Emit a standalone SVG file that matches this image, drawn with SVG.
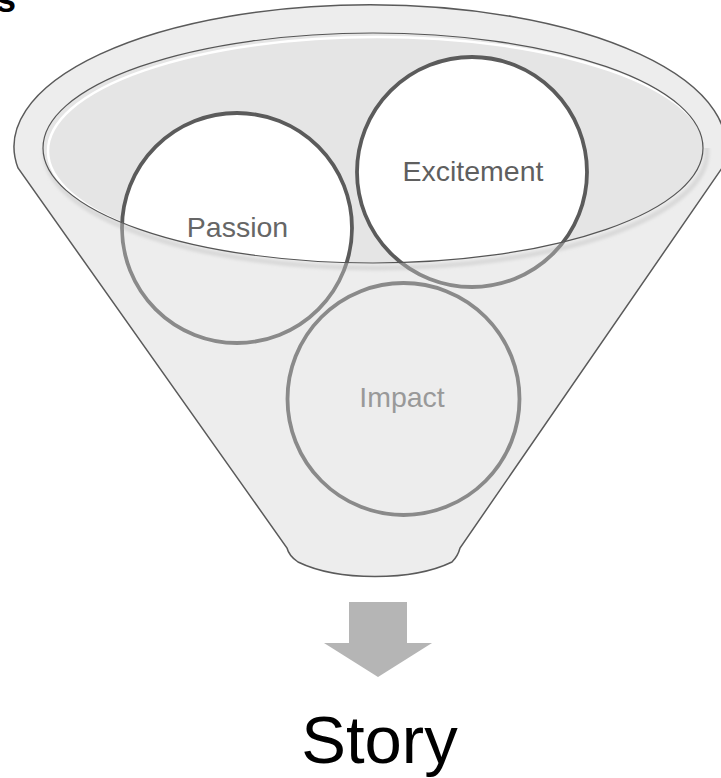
<svg xmlns="http://www.w3.org/2000/svg" width="721" height="778" viewBox="0 0 721 778">
  <style>
    .lbl { font-family: "Liberation Sans", Arial, sans-serif; font-size: 28.5px; text-anchor: middle; }
    .ring { fill: #ffffff; stroke: #5b5b5b; stroke-width: 3.8; }
    .ringFront { fill: none; stroke: #8a8a8a; stroke-width: 3.8; }
    .outline { fill: none; stroke: #5a5a5a; stroke-width: 1.5; }
  </style>
  <defs>
    <path id="frontShape" d="M 43,148 A 330 115 0 0 0 703,148 L 726,148 A 356 142 0 0 1 722,168 L 460,548 Q 458,556 452,562 A 100 40 0 0 1 298,562 Q 289,556 287,548 L 18,168 A 356 142 0 0 1 14,148 Z"/>
    <clipPath id="frontClip"><use href="#frontShape"/></clipPath>
    <clipPath id="innerClip"><ellipse cx="373" cy="148" rx="330" ry="115"/></clipPath>
    <filter id="soft" x="-5%" y="-5%" width="110%" height="110%"><feGaussianBlur stdDeviation="1.5"/></filter>
  </defs>

  <text x="-4" y="12" font-family="Liberation Sans, Arial, sans-serif" font-size="36" font-weight="bold" fill="#000">s</text>

  <g id="funnel-back">
    <path d="M 18,168 A 356 142 0 1 1 722,168 L 460,548 Q 458,556 452,562 A 100 40 0 0 1 298,562 Q 289,556 287,548 Z" fill="#ededed"/>
    <ellipse cx="373" cy="148" rx="330" ry="115" fill="#e5e5e5"/>
    <ellipse cx="377" cy="151" rx="329" ry="114" fill="none" stroke="#ffffff" stroke-width="2.5" clip-path="url(#innerClip)"/>
  </g>

  <g id="passion">
    <circle class="ring" cx="237" cy="228" r="115"/>
    <text class="lbl" x="237.5" y="237" fill="#666666">Passion</text>
  </g>

  <g id="excitement">
    <circle class="ring" cx="472" cy="172" r="115"/>
    <text class="lbl" x="473" y="181" fill="#5f5f5f">Excitement</text>
  </g>

  <g id="funnel-front">
    <use href="#frontShape" fill="#ededed"/>
    <ellipse cx="376" cy="152" rx="331" ry="116" fill="none" stroke="#d9d9d9" stroke-width="5" clip-path="url(#frontClip)" filter="url(#soft)"/>
    <g clip-path="url(#frontClip)">
      <circle class="ringFront" cx="237" cy="228" r="115"/>
      <circle class="ringFront" cx="472" cy="172" r="115"/>
    </g>
  </g>

  <g id="impact">
    <circle class="ringFront" cx="403.5" cy="399" r="116"/>
    <text class="lbl" x="402" y="407" fill="#999999">Impact</text>
  </g>

  <g id="funnel-outline">
    <ellipse cx="373" cy="148" rx="330" ry="115" fill="none" stroke="#555555" stroke-width="1.2"/>
    <path class="outline" d="M 18,168 A 356 142 0 1 1 722,168 L 460,548 Q 458,556 452,562 A 100 40 0 0 1 298,562 Q 289,556 287,548 Z"/>
  </g>

  <g id="connectors">
    <polygon points="349,602 407,602 407,643 432,643 378,677 324,643 349,643" fill="#b5b5b5"/>
  </g>

  <g id="story">
    <text x="379.5" y="763" font-family="Liberation Sans, Arial, sans-serif" font-size="67" text-anchor="middle" fill="#000000">Story</text>
  </g>
</svg>
